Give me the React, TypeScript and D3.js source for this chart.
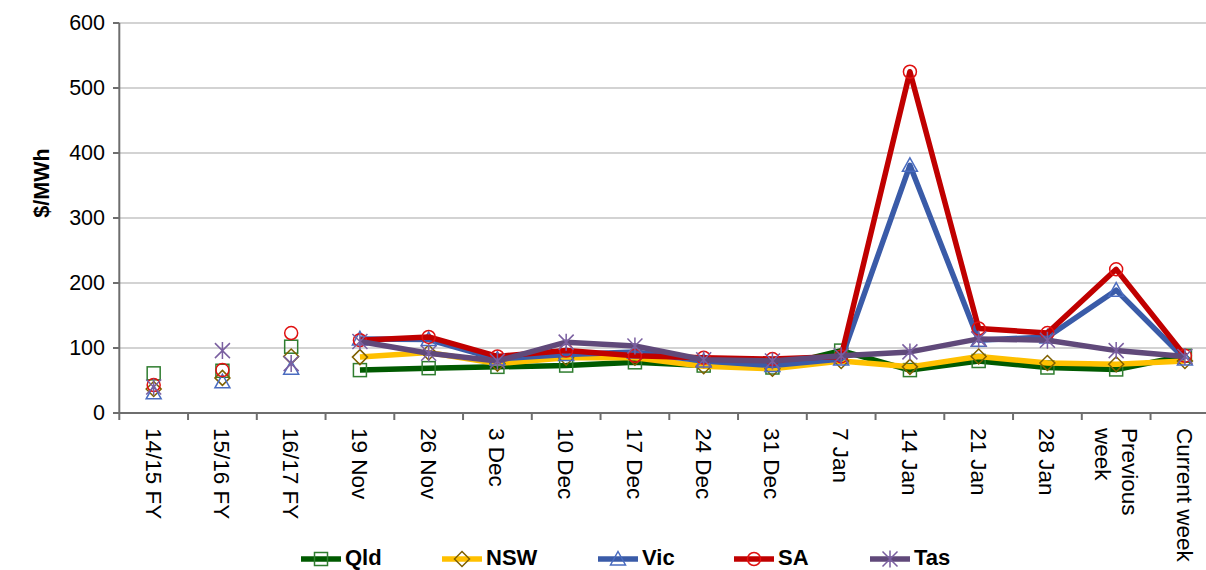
import React from "react";
import * as d3 from "d3";

const categories = ["14/15 FY","15/16 FY","16/17 FY","19 Nov","26 Nov","3 Dec","10 Dec","17 Dec","24 Dec","31 Dec","7 Jan","14 Jan","21 Jan","28 Jan","Previous week","Current week"];
const yTicks = [0, 100, 200, 300, 400, 500, 600];
const qld = [61, 65, 102, 66, 69, 71, 73, 78, 73, 70, 96, 66, 80, 70, 67, 88];
const nsw = [37, 54, 87, 86, 93, 76, 85, 85, 72, 68, 80, 71, 87, 77, 75, 80];
const vic = [31, 48, 69, 114, 113, 83, 90, 94, 80, 73, 83, 381, 112, 117, 189, 83];
const sa = [43, 66, 123, 112, 117, 87, 96, 88, 85, 83, 87, 525, 130, 123, 221, 88];
const tas = [40, 96, 76, 110, 92, 80, 109, 103, 82, 80, 88, 94, 114, 112, 96, 87];
const fyCount = 3;

const seriesList = [
  { name: "Qld", values: qld, line: "#005a00", marker: "#2f7d2f", shape: "square" },
  { name: "NSW", values: nsw, line: "#ffc000", marker: "#7f6000", shape: "diamond" },
  { name: "Vic", values: vic, line: "#3a5ba8", marker: "#4a6cc0", shape: "triangle" },
  { name: "SA", values: sa, line: "#c00000", marker: "#e01010", shape: "circle" },
  { name: "Tas", values: tas, line: "#60497a", marker: "#7a5fa0", shape: "star" },
];

const W = 1206, H = 570;
const FONT = "Arial, 'Liberation Sans', sans-serif";

function Marker({ shape, x, y, color }: { shape: string; x: number; y: number; color: string }) {
  const sw = 1.5;
  if (shape === "square") return <rect x={x - 6.5} y={y - 6.5} width={13} height={13} fill="none" stroke={color} strokeWidth={sw} />;
  if (shape === "diamond") return <path d={`M${x},${y - 7.5}L${x + 7.5},${y}L${x},${y + 7.5}L${x - 7.5},${y}Z`} fill="none" stroke={color} strokeWidth={sw} />;
  if (shape === "triangle") return <path d={`M${x},${y - 7.5}L${x + 7.5},${y + 6}L${x - 7.5},${y + 6}Z`} fill="none" stroke={color} strokeWidth={sw} />;
  if (shape === "circle") return <circle cx={x} cy={y} r={6.5} fill="none" stroke={color} strokeWidth={sw} />;
  const r = 7.5;
  return (
    <path
      d={`M${x - r},${y - r}L${x + r},${y + r}M${x - r},${y + r}L${x + r},${y - r}M${x},${y - r - 1}L${x},${y + r + 1}`}
      stroke={color}
      strokeWidth={sw}
      fill="none"
    />
  );
}

export default function App() {
  const x = d3.scaleBand<string>().domain(categories).range([119.3, 1219.3]).padding(0);
  const y = d3.scaleLinear().domain([0, 600]).range([413, 23]);
  const cx = (c: string) => (x(c) as number) + x.bandwidth() / 2;

  const lineGen = d3
    .line<number>()
    .defined((_, i) => i >= fyCount)
    .x((_, i) => cx(categories[i]))
    .y((d) => y(d));

  const legendX = [301, 442, 598, 734, 870];
  const legendY = 557;

  return (
    <svg width={W} height={H} style={{ position: "absolute", left: 0, top: 0, background: "#fff" }} fontFamily={FONT}>
      {yTicks.filter((t) => t > 0).map((t) => (
        <line key={t} x1={119.3} x2={W} y1={y(t)} y2={y(t)} stroke="#c4c4c4" strokeWidth={1.5} />
      ))}
      <line x1={119.3} x2={119.3} y1={y(600)} y2={420} stroke="#6e6e6e" strokeWidth={2} />
      {yTicks.map((t) => (
        <g key={t}>
          <line x1={113} x2={119.3} y1={y(t)} y2={y(t)} stroke="#6e6e6e" strokeWidth={2} />
          <text x={105} y={y(t)} textAnchor="end" dominantBaseline="central" fontSize={21.5} fill="#000">
            {t}
          </text>
        </g>
      ))}
      <text transform={`translate(42,183) rotate(-90)`} textAnchor="middle" dominantBaseline="central" fontSize={21.5} fontWeight="bold">
        $/MWh
      </text>
      <line x1={113} x2={W} y1={413} y2={413} stroke="#6e6e6e" strokeWidth={2} />
      {categories.map((c, i) => (
        <line key={"t" + i} x1={(x(c) as number) + x.bandwidth()} x2={(x(c) as number) + x.bandwidth()} y1={413} y2={420} stroke="#6e6e6e" strokeWidth={2} />
      ))}
      {categories.map((c) => {
        const parts = c === "Previous week" ? ["Previous", "week"] : [c];
        return (
          <text key={c} transform={`translate(${cx(c)},428) rotate(90)`} textAnchor="start" dominantBaseline="central" fontSize={22.5}>
            {parts.map((p, j) => (
              <tspan key={j} x={0} y={parts.length === 1 ? 0 : (j - 0.5) * 27}>
                {p}
              </tspan>
            ))}
          </text>
        );
      })}
      {seriesList.map((s) => (
        <g key={s.name}>
          <path d={lineGen(s.values) || ""} fill="none" stroke={s.line} strokeWidth={5.5} strokeLinejoin="round" />
          {s.values.map((v, i) => (
            <Marker key={i} shape={s.shape} x={cx(categories[i])} y={y(v)} color={s.marker} />
          ))}
        </g>
      ))}
      {seriesList.map((s, i) => (
        <g key={"l" + s.name}>
          <line x1={legendX[i]} x2={legendX[i] + 40} y1={legendY + 2} y2={legendY + 2} stroke={s.line} strokeWidth={5.5} />
          <Marker shape={s.shape} x={legendX[i] + 20} y={legendY + 2} color={s.marker} />
          <text x={legendX[i] + 44} y={legendY} dominantBaseline="central" fontSize={22} fontWeight="bold">
            {s.name}
          </text>
        </g>
      ))}
    </svg>
  );
}
